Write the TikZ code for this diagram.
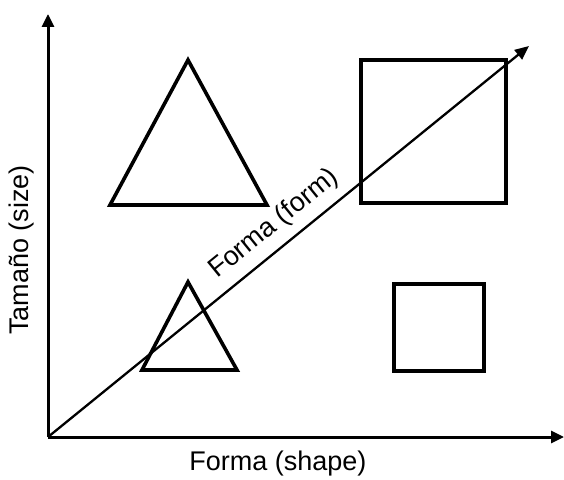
\documentclass[tikz,border=0pt]{standalone}
\usepackage{fontspec}
\setmainfont{Liberation Sans}
\usetikzlibrary{arrows.meta, positioning}
\definecolor{cblack}{HTML}{000000}
\tikzset{
  every picture/.style={x=1pt, y=1pt},
  axis/.style={-{Triangle[length=13pt, width=12pt]}, draw=cblack, line width=3pt},
  diag/.style={-{Triangle[length=14pt, width=12pt]}, draw=cblack, line width=2.3pt},
  figline/.style={draw=cblack, line width=3.6pt, line join=miter},
  lbl/.style={font=\fontsize{27}{29}\selectfont, text=cblack, inner sep=2pt},
}

\begin{document}
\begin{tikzpicture}
  \useasboundingbox (0,0) rectangle (564,479);
  \coordinate (O) at (48,42);
  \coordinate (ytip) at (48,465);
  \coordinate (xtip) at (564,42);
  \coordinate (dtip) at (529,433);
  % axes
  \draw[axis] (O) -- (ytip);
  \draw[axis] (O) -- (xtip);
  % triangles and squares
  \draw[figline] (110,274) -- (188,419) -- (267,274) -- cycle;
  \draw[figline] (142,109) -- (188,197) -- (237,109) -- cycle;
  \draw[figline] (361,276) rectangle (506,419);
  \draw[figline] (394,108) rectangle (484,195);
  % diagonal
  \draw[diag] (O) -- node[lbl, pos=0.5, sloped, above=7pt] (form) {Forma (form)} (dtip);
  \node[lbl] (shapelbl) at (278,15) {Forma (shape)};
  \node[lbl, rotate=90] (sizelbl) at (22,229) {Tamaño (size)};
\end{tikzpicture}
\end{document}
